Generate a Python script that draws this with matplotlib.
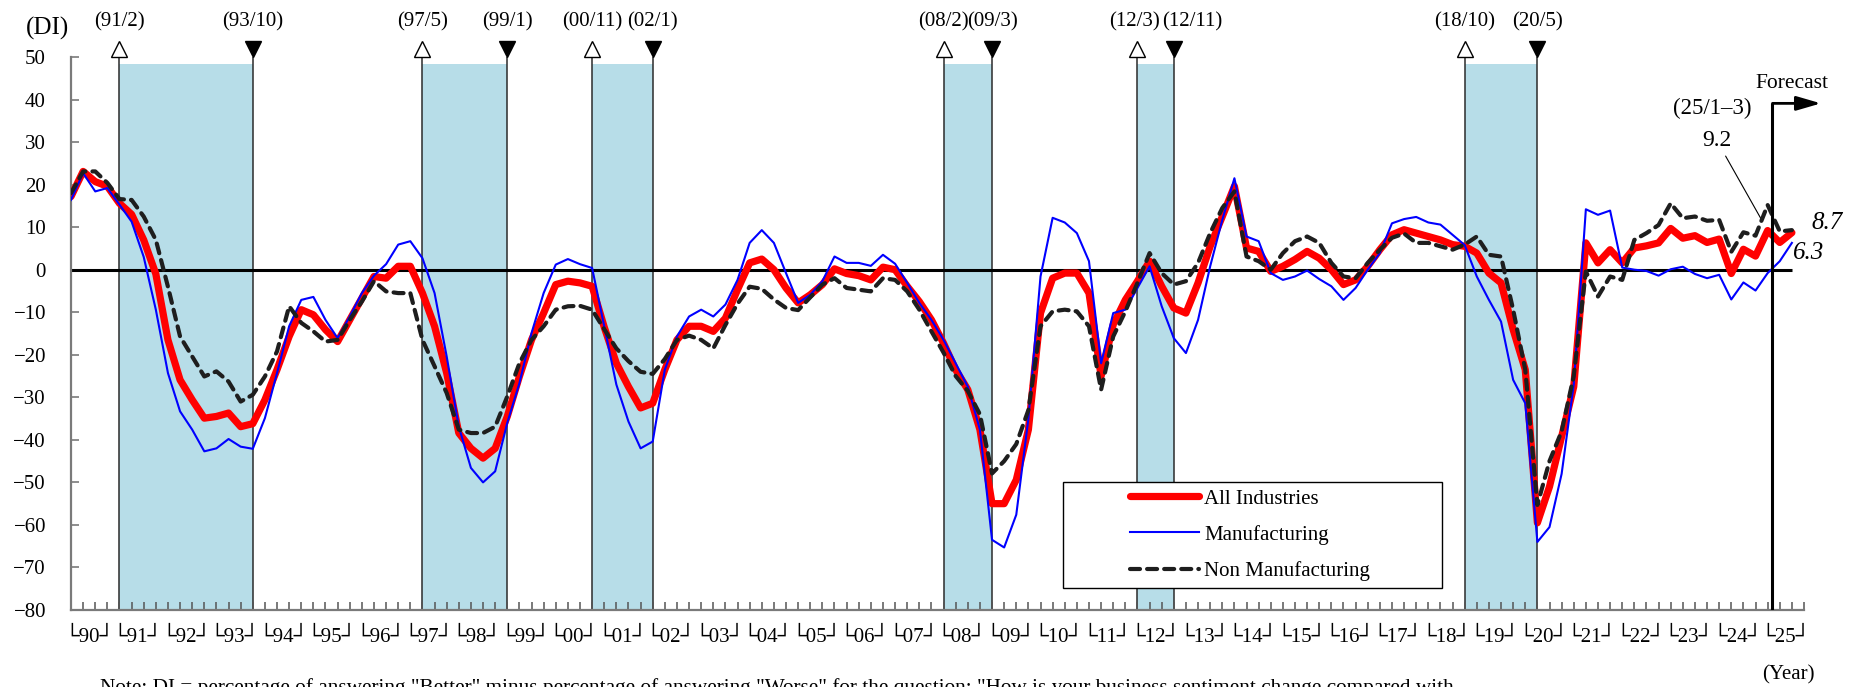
import numpy as np
import matplotlib
matplotlib.use("Agg")
import matplotlib.pyplot as plt
from matplotlib.patches import Rectangle

# ---------------------------------------------------------------------------
# Business sentiment DI, quarterly from 1990 Q1 (last points are forecasts)
# ---------------------------------------------------------------------------
all_industries = [
    17.2, 23.1, 20.7, 19.6, 15.6, 13.0, 7.0, -1.0, -16.5, -25.9,
    -30.6, -34.9, -34.5, -33.7, -36.9, -36.2, -30.6, -23.5, -15.7, -9.4,
    -10.6, -14.1, -16.9, -11.8, -6.7, -1.6, -2.0, 0.8, 0.8, -5.5,
    -13.3, -24.3, -38.4, -42.0, -44.3, -42.0, -34.5, -25.1, -16.5, -10.2,
    -3.5, -2.7, -3.1, -3.9, -13.5, -22.0, -27.5, -32.5, -31.4, -23.5,
    -16.5, -13.3, -13.3, -14.5, -11.4, -4.7, 1.6, 2.5, 0.0, -4.3,
    -7.8, -5.9, -3.5, 0.2, -0.9, -1.4, -2.4, 0.6, 0.0, -3.9,
    -7.5, -11.8, -17.3, -23.5, -28.2, -37.6, -55.0, -55.0, -49.4, -37.6,
    -10.2, -2.0, -0.8, -0.8, -5.5, -25.0, -12.9, -7.1, -2.7, 2.0,
    -3.9, -9.0, -10.2, -3.1, 5.5, 12.5, 19.6, 5.1, 4.3, -0.4,
    0.8, 2.4, 4.3, 2.7, 0.0, -3.5, -2.4, 0.8, 4.7, 8.2,
    9.4, 8.6, 7.8, 7.0, 5.9, 5.5, 3.9, -0.8, -3.1, -14.1,
    -23.5, -59.5, -51.0, -39.2, -27.5, 6.3, 1.6, 4.7, 1.6, 5.1,
    5.6, 6.3, 9.7, 7.4, 8.0, 6.4, 7.2, -0.9, 4.8, 3.2,
    9.2, 6.4, 8.7,
]

manufacturing = [
    16.4, 22.7, 18.4, 19.2, 15.3, 11.3, 3.0, -9.4, -24.3, -33.3,
    -37.6, -42.7, -42.0, -39.8, -41.6, -42.1, -34.9, -24.3, -13.3, -7.1,
    -6.4, -11.8, -16.1, -11.0, -5.5, -1.4, 1.3, 5.9, 6.7, 2.7,
    -5.5, -20.4, -36.9, -46.6, -50.0, -47.4, -36.0, -26.7, -14.9, -5.5,
    1.2, 2.5, 1.3, 0.4, -13.3, -27.0, -35.7, -42.0, -40.4, -23.5,
    -15.7, -11.0, -9.4, -11.0, -8.2, -2.4, 6.3, 9.3, 6.3, -0.8,
    -7.8, -5.9, -2.7, 3.1, 1.6, 1.6, 0.9, 3.5, 1.4, -3.1,
    -7.8, -11.8, -16.5, -22.0, -27.5, -37.6, -63.5, -65.3, -57.6, -35.0,
    -1.6, 12.2, 11.1, 8.6, 2.0, -22.0, -10.2, -9.4, -4.3, 0.8,
    -8.6, -16.1, -19.6, -11.8, 0.8, 11.7, 21.5, 7.8, 6.7, -0.8,
    -2.4, -1.6, -0.2, -2.2, -3.9, -7.1, -4.3, 0.0, 3.9, 10.9,
    11.9, 12.4, 11.1, 10.6, 8.2, 5.8, -1.6, -7.1, -12.2, -25.9,
    -31.4, -64.0, -60.5, -48.0, -27.0, 14.2, 12.9, 13.9, 0.5, 0.0,
    -0.3, -1.4, 0.1, 0.7, -1.0, -2.0, -1.2, -7.0, -3.0, -4.9,
    -0.8, 2.0, 6.3,
]

non_manufacturing = [
    18.0, 23.1, 23.1, 20.4, 16.6, 16.4, 12.5, 7.0, -4.0, -15.7,
    -20.4, -25.1, -23.9, -26.3, -31.0, -29.4, -25.1, -19.2, -8.6, -12.5,
    -14.5, -16.9, -16.5, -11.8, -7.5, -2.7, -5.1, -5.5, -5.5, -16.5,
    -22.7, -29.0, -37.6, -38.4, -38.4, -36.9, -29.8, -22.0, -16.5, -13.3,
    -9.4, -8.6, -8.5, -9.4, -14.0, -18.5, -21.5, -24.0, -24.5, -21.0,
    -16.5, -15.5, -16.5, -18.5, -13.0, -8.0, -4.0, -4.5, -7.0, -9.0,
    -9.5, -6.5, -3.5, -2.0, -4.3, -4.7, -5.1, -2.0, -2.4, -5.1,
    -9.4, -14.5, -19.5, -25.0, -28.5, -34.0, -47.9, -45.0, -41.0, -33.0,
    -13.3, -9.8, -9.4, -9.8, -13.3, -28.2, -15.7, -9.8, -3.1, 3.9,
    -0.8, -3.5, -2.7, 1.6, 8.6, 14.5, 18.4, 3.1, 2.0, 0.0,
    3.9, 6.7, 7.8, 6.3, 1.6, -1.6, -2.0, 1.6, 4.7, 7.5,
    8.5, 6.3, 6.3, 5.5, 4.7, 5.9, 7.8, 3.5, 3.1, -9.4,
    -23.5, -55.3, -45.0, -38.0, -25.0, -0.4, -6.3, -1.6, -2.4, 7.0,
    8.6, 10.5, 15.6, 12.1, 12.5, 11.5, 11.7, 4.2, 8.8, 8.0,
    15.2, 9.0, 9.3,
]

series_names = ["All Industries", "Manufacturing", "Non Manufacturing"]

# Business-cycle peaks (open triangle) and troughs (filled triangle), "yy/m"
peak_labels = ["91/2", "97/5", "00/11", "08/2", "12/3", "18/10"]
trough_labels = ["93/10", "99/1", "02/1", "09/3", "12/11", "20/5"]

first_year = 1990
last_year = 2025
y_ticks = list(range(-80, 51, 10))


def quarter_index(label):
    yy, mm = (int(p) for p in label.split("/"))
    year = 1900 + yy if yy >= 90 else 2000 + yy
    return (year - first_year) * 4 + (mm - 1) // 3


q = np.arange(len(all_industries))
years = np.arange(first_year, last_year + 1)
year_text = [f"\u2514{y % 100:02d}\u2518" for y in years]
year_centres = (years - first_year) * 4 + 1.5

serif = ["Liberation Serif", "DejaVu Serif"]
plt.rcParams["font.family"] = serif

W, H = 1856, 687
fig = plt.figure(figsize=(W / 100, H / 100), dpi=100)
ax_l, ax_r, ax_t, ax_b = 71, 1804, 57, 610
ax = fig.add_axes([ax_l / W, 1 - ax_b / H, (ax_r - ax_l) / W, (ax_b - ax_t) / H])
ax.set_xlim(0, 143)
ax.set_ylim(-80, 50)

# recession shading with turning-point markers
shade_top = 48.3
marker_y = 51.8
label_y = 58.2
# horizontal nudges (pixels) for labels that would otherwise collide
label_nudge = {"12/3": -3, "12/11": 18}
for pk, tr in zip(peak_labels, trough_labels):
    x0, x1 = quarter_index(pk), quarter_index(tr)
    ax.axvspan(x0, x1, ymin=0, ymax=(shade_top + 80) / 130,
               color="#b7dde8", lw=0, zorder=0)
    ax.vlines([x0, x1], -80, 50, color="#2b2b2b", lw=1.1, zorder=1)
    ax.plot(x0, marker_y, marker="^", ms=11, mfc="white", mec="black",
            mew=1.0, clip_on=False, zorder=6)
    ax.plot(x1, marker_y, marker="v", ms=11, mfc="black", mec="black",
            mew=1.0, clip_on=False, zorder=6)
    for lab, xpos in ((pk, x0), (tr, x1)):
        ax.annotate(f"({lab})", xy=(xpos, label_y),
                    xytext=(label_nudge.get(lab, 0), 0),
                    textcoords="offset pixels", ha="center", va="center",
                    fontsize=15, annotation_clip=False)

# zero line over the span of the data
ax.hlines(0, q[0], q[-1], color="black", lw=2.2, zorder=2)

h_all, = ax.plot(q, all_industries, color="#ff0000", lw=5.2,
                 solid_joinstyle="round", solid_capstyle="round", zorder=3)
h_mfg, = ax.plot(q, manufacturing, color="#0000ff", lw=1.5, zorder=4)
h_non, = ax.plot(q, non_manufacturing, color="#1e1e1e", lw=3.0,
                 dashes=(2.4, 1.7), dash_capstyle="round", zorder=5)

# forecast marker
forecast_x = (last_year - first_year) * 4 + 0.4
forecast_y = 39.1
ax.vlines(forecast_x, -80, forecast_y, color="black", lw=2.2, zorder=6)
ax.annotate("", xy=(144.4, forecast_y), xytext=(forecast_x, forecast_y),
            arrowprops=dict(arrowstyle="-|>,head_length=0.55,head_width=0.16",
                            lw=2.0, color="black", mutation_scale=27,
                            shrinkA=0, shrinkB=0),
            annotation_clip=False, zorder=6)
ax.text(142.0, 43.8, "Forecast", ha="center", va="center", fontsize=15.5)

# latest actual value and forecast values
latest_i = (last_year - first_year) * 4
ax.text(135.4, 37.8, "(25/1\u20133)", ha="center", va="center", fontsize=16.5)
ax.annotate(f"{all_industries[latest_i]:.1f}",
            xy=(q[latest_i], all_industries[latest_i]), xytext=(135.8, 30.4),
            ha="center", va="center", fontsize=17,
            arrowprops=dict(arrowstyle="-", lw=0.8, color="black",
                            shrinkA=2, shrinkB=9))
ax.annotate(f"{all_industries[-1]:.1f}", xy=(q[-1], all_industries[-1]),
            xytext=(35, 10), textcoords="offset pixels",
            ha="center", va="center", fontsize=18, style="italic",
            annotation_clip=False)
ax.annotate(f"{manufacturing[-1]:.1f}", xy=(q[-1], manufacturing[-1]),
            xytext=(17, -10), textcoords="offset pixels",
            ha="center", va="center", fontsize=18, style="italic",
            annotation_clip=False)

# axes styling
for side in ("top", "right"):
    ax.spines[side].set_visible(False)
for side in ("left", "bottom"):
    ax.spines[side].set_color("#7a7a7a")
    ax.spines[side].set_linewidth(1.6)

ax.set_yticks(y_ticks)
ax.tick_params(axis="y", direction="in", length=6, width=1.2,
               color="#7a7a7a", pad=18, labelsize=15)

ax.set_xticks(np.arange(1, 144))
ax.tick_params(axis="x", which="major", direction="in", length=6,
               width=1.1, color="#555555", labelbottom=False)
ax.set_xticks(year_centres, minor=True)
ax.set_xticklabels(year_text, minor=True, fontsize=15,
                   family=["Liberation Serif", "DejaVu Sans"])
ax.tick_params(axis="x", which="minor", length=0, pad=13)

# legend with a white framed box
legend = ax.legend([h_all, h_mfg, h_non], series_names, loc="upper left",
                   bbox_to_anchor=(1130 / W, 1 - 489 / H),
                   bbox_transform=fig.transFigure, frameon=False,
                   fontsize=15, handlelength=3.3, handletextpad=0.25,
                   labelspacing=0.78, borderpad=0, borderaxespad=0)
legend.set_zorder(8)
frame = Rectangle((1063 / W, 1 - 588 / H), (1442 - 1063) / W, (588 - 482) / H,
                  transform=fig.transFigure, facecolor="white",
                  edgecolor="black", lw=1.0, zorder=7, clip_on=False)
ax.add_patch(frame)

fig.text(48 / W, 1 - 28 / H, "(DI)", ha="center", va="center", fontsize=18)
fig.text(1788 / W, 1 - 675 / H, "(Year)", ha="center", va="center", fontsize=15)
fig.text(100 / W, -5.7 / H,
         'Note: DI = percentage of answering "Better" minus percentage of '
         'answering "Worse" for the question: "How is your business '
         'sentiment change compared with',
         ha="left", va="baseline", fontsize=15.3)

fig.savefig("out.png", dpi=100)
